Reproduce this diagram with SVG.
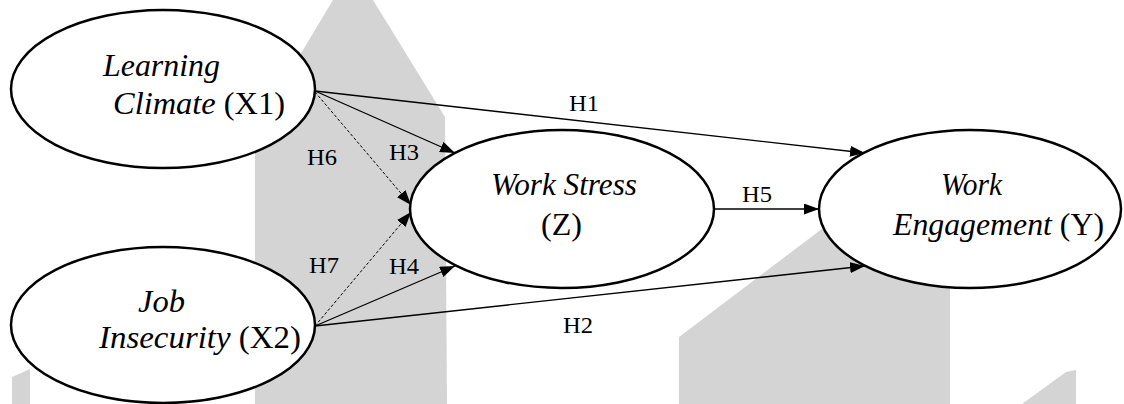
<svg xmlns="http://www.w3.org/2000/svg" width="1124" height="404" viewBox="0 0 1124 404">
  <style>
    .node ellipse { fill: #ffffff; stroke: #000000; stroke-width: 2.5; }
    .nt { font-family: "Liberation Serif", "DejaVu Serif", "Noto Serif", serif; font-size: 32px; fill: #000000; }
    .it { font-style: italic; }
    .lbl { font-family: "Liberation Serif", "DejaVu Serif", "Noto Serif", serif; font-size: 24px; fill: #000000; }
    .edge { fill: none; stroke: #000000; stroke-width: 1.3; marker-end: url(#arrow); }
    .dash { stroke-width: 1; stroke-dasharray: 3 2; }
    .wm { fill: #d4d4d4; stroke: none; }
  </style>
  <defs>
    <marker id="arrow" markerUnits="userSpaceOnUse" markerWidth="15" markerHeight="11" refX="15" refY="5.5" orient="auto">
      <path d="M0,0 L15,5.5 L0,11 Z" fill="#000000"/>
    </marker>
  </defs>
  <rect width="1124" height="404" fill="#ffffff"/>
  <g id="watermark">
    <polygon class="wm" points="255,404 255,130 333,0 373,0 445,117 447,404"/>
    <polygon class="wm" points="679,404 679,337 880,185 950,185 950,404"/>
    <polygon class="wm" points="1022,404 1066,372 1076,370 1076,404"/>
    <polygon class="wm" points="12,404 12,377 30,369 30,404"/>
  </g>
  <g id="connectors">
    <line id="e-h1" class="edge" x1="315" y1="91" x2="865" y2="153"/>
    <line id="e-h3" class="edge" x1="315" y1="91" x2="455" y2="153"/>
    <line id="e-h6" class="edge dash" x1="315" y1="92" x2="411" y2="205"/>
    <line id="e-h7" class="edge dash" x1="315" y1="326" x2="411" y2="212"/>
    <line id="e-h4" class="edge" x1="315" y1="326" x2="455" y2="266"/>
    <line id="e-h2" class="edge" x1="315" y1="326" x2="865" y2="266"/>
    <line id="e-h5" class="edge" x1="715" y1="209" x2="819" y2="209"/>
    <text class="lbl" x="569" y="111" textLength="30" lengthAdjust="spacingAndGlyphs">H1</text>
    <text class="lbl" x="389" y="160" textLength="30" lengthAdjust="spacingAndGlyphs">H3</text>
    <text class="lbl" x="307" y="165" textLength="30" lengthAdjust="spacingAndGlyphs">H6</text>
    <text class="lbl" x="309" y="273" textLength="30" lengthAdjust="spacingAndGlyphs">H7</text>
    <text class="lbl" x="389" y="274" textLength="30" lengthAdjust="spacingAndGlyphs">H4</text>
    <text class="lbl" x="563" y="333" textLength="30" lengthAdjust="spacingAndGlyphs">H2</text>
    <text class="lbl" x="742" y="202" textLength="30" lengthAdjust="spacingAndGlyphs">H5</text>
  </g>
  <g id="node-x1" class="node">
    <ellipse cx="163" cy="89" rx="152" ry="79"/>
    <text class="nt it" x="103" y="76" textLength="117" lengthAdjust="spacingAndGlyphs">Learning</text>
    <text class="nt" x="113" y="114" textLength="172" lengthAdjust="spacingAndGlyphs"><tspan class="it">Climate</tspan> (X1)</text>
  </g>
  <g id="node-x2" class="node">
    <ellipse cx="163" cy="325" rx="152" ry="78"/>
    <text class="nt it" x="138" y="312" textLength="47" lengthAdjust="spacingAndGlyphs">Job</text>
    <text class="nt" x="99" y="348" textLength="202" lengthAdjust="spacingAndGlyphs"><tspan class="it">Insecurity</tspan> (X2)</text>
  </g>
  <g id="node-z" class="node">
    <ellipse cx="562" cy="209" rx="152" ry="79"/>
    <text class="nt it" x="491" y="195" textLength="146" lengthAdjust="spacingAndGlyphs">Work Stress</text>
    <text class="nt" x="541" y="235" textLength="41" lengthAdjust="spacingAndGlyphs">(Z)</text>
  </g>
  <g id="node-y" class="node">
    <ellipse cx="970" cy="209" rx="151" ry="79"/>
    <text class="nt it" x="941" y="195" textLength="61" lengthAdjust="spacingAndGlyphs">Work</text>
    <text class="nt" x="893" y="235" textLength="211" lengthAdjust="spacingAndGlyphs"><tspan class="it">Engagement</tspan> (Y)</text>
  </g>
</svg>
